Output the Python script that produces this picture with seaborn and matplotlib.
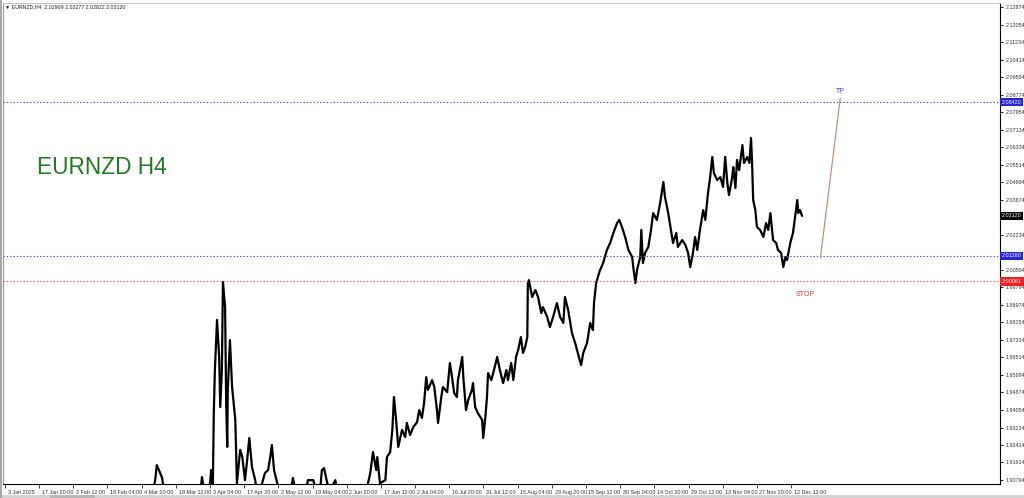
import numpy as np
import pandas as pd
import matplotlib
matplotlib.use("Agg")
import matplotlib.pyplot as plt
import matplotlib.transforms as mtrans
from matplotlib.patches import Rectangle
import seaborn as sns

# ---------------- data ----------------
bars = [0, 260, 270, 273, 277, 283, 288, 353, 357, 363, 370, 374, 377,
        379, 381, 385, 389, 391, 394, 396, 400, 402, 404, 405, 409, 413, 419, 422,
        428, 432, 437, 441, 445, 450, 456, 461, 474, 480, 484, 487, 491, 497, 502,
        521, 526, 532, 549, 554, 564, 569, 577, 580, 584, 590, 595, 605, 610, 660,
        670, 675, 681, 683, 688, 698, 701, 707, 711, 714, 718, 722, 729, 735, 738,
        744, 750, 757, 761, 766, 770, 774, 777, 785, 789, 794, 796, 802, 805, 813,
        818, 822, 826, 831, 833, 841, 843, 848, 852, 859, 861, 865, 870, 878, 880,
        884, 887, 889, 895, 900, 906, 911, 917, 923, 926, 932, 936, 941, 945, 950,
        954, 958, 962, 963, 965, 971, 977, 982, 988, 991, 999, 1004, 1010, 1017,
        1023, 1029, 1032, 1038, 1045, 1051, 1056, 1062, 1066, 1073, 1079, 1084,
        1086, 1090, 1096, 1103, 1110, 1116, 1122, 1129, 1133, 1138, 1144, 1150,
        1157, 1159, 1163, 1166, 1172, 1174, 1177, 1181, 1187, 1192, 1196, 1203,
        1209, 1215, 1218, 1224, 1229, 1233, 1239, 1242, 1250, 1256, 1261, 1265,
        1270, 1274, 1278, 1283, 1289, 1293, 1298, 1302, 1306, 1309, 1315, 1321,
        1326, 1330, 1334, 1337, 1343, 1345, 1349, 1352, 1356, 1362, 1365, 1371,
        1375, 1378, 1380, 1382, 1386, 1389, 1395, 1401, 1406, 1410, 1414, 1419,
        1425, 1428, 1434, 1438, 1442, 1445, 1451, 1456, 1460, 1464, 1466, 1469, 1473]

prices = [1.8950, 1.8960, 1.9078, 1.9148, 1.9125, 1.9088, 1.8990, 1.8990, 1.9092, 1.8995, 1.9000, 1.9125, 1.9010,
          1.9391, 1.9592, 1.9826, 1.9653, 1.9419, 1.9592, 2.0004, 1.9886, 1.9438, 1.9233, 1.9499, 1.9732, 1.9513, 1.9359, 1.9064,
          1.9219, 1.9186, 1.9078, 1.9172, 1.9275, 1.9139, 1.9078, 1.8990, 1.9111, 1.9125, 1.9186, 1.9242, 1.9125, 1.9064, 1.8980,
          1.9000, 1.9088, 1.9020, 1.9010, 1.9078, 1.9078, 1.9030, 1.9040, 1.9125, 1.9134, 1.9064, 1.9030, 1.9078, 1.8990, 1.9000,
          1.9111, 1.9209, 1.9125, 1.9186, 1.9064, 1.9078, 1.9186, 1.9209, 1.9312, 1.9466, 1.9359, 1.9233, 1.9312, 1.9279, 1.9345,
          1.9289, 1.9326, 1.9349, 1.9405, 1.9368, 1.9438, 1.9559, 1.9499, 1.9545, 1.9513, 1.9405, 1.9345, 1.9466, 1.9513, 1.9489,
          1.9625, 1.9559, 1.9485, 1.9466, 1.9545, 1.9653, 1.9559, 1.9405, 1.9452, 1.9499, 1.9531, 1.9419, 1.9391, 1.9359, 1.9275,
          1.9373, 1.9466, 1.9578, 1.9545, 1.9592, 1.9653, 1.9592, 1.9531, 1.9592, 1.9545, 1.9625, 1.9545, 1.9653, 1.9686, 1.9746,
          1.9672, 1.9700, 1.9746, 1.9998, 2.0012, 1.9933, 1.9966, 1.9933, 1.9858, 1.9886, 1.9840, 1.9793, 1.9840, 1.9905,
          1.9840, 1.9812, 1.9933, 1.9872, 1.9765, 1.9718, 1.9672, 1.9615, 1.9672, 1.9718, 1.9812, 1.9779,
          1.9905, 1.9998, 2.0050, 2.0092, 2.0153, 2.0185, 2.0232, 2.0279, 2.0293, 2.0260, 2.0213, 2.0153,
          2.0120, 2.0073, 1.9998, 2.0059, 2.0120, 2.0246, 2.0092, 2.0139, 2.0167, 2.0246, 2.0325, 2.0293,
          2.0372, 2.0470, 2.0400, 2.0325, 2.0246, 2.0185, 2.0232, 2.0167, 2.0199, 2.0176, 2.0139, 2.0073,
          2.0139, 2.0213, 2.0153, 2.0246, 2.0339, 2.0293, 2.0419, 2.0493, 2.0587, 2.0512, 2.0479, 2.0493,
          2.0447, 2.0587, 2.0465, 2.0409, 2.0493, 2.0540, 2.0442, 2.0573, 2.0526, 2.0643, 2.0559, 2.0587,
          2.0559, 2.0676, 2.0559, 2.0386, 2.0339, 2.0260, 2.0246, 2.0213, 2.0279, 2.0246, 2.0325, 2.0199,
          2.0185, 2.0153, 2.0139, 2.0073, 2.0120, 2.0106, 2.0185, 2.0232, 2.0307, 2.0386, 2.0325, 2.0339, 2.0312]

x_labels = ["3 Jan 2025", "17 Jan 20:00", "3 Feb 12:00", "18 Feb 04:00", "4 Mar 20:00",
            "19 Mar 12:00", "3 Apr 04:00", "17 Apr 20:00", "2 May 12:00", "19 May 04:00",
            "2 Jun 20:00", "17 Jun 12:00", "2 Jul 04:00", "16 Jul 20:00", "31 Jul 12:00",
            "15 Aug 04:00", "29 Aug 20:00", "15 Sep 12:00", "30 Sep 04:00", "14 Oct 20:00",
            "29 Oct 12:00", "13 Nov 04:00", "27 Nov 20:00", "12 Dec 12:00"]
x_tick_bars = [-9, 54, 118, 181, 245, 309, 372, 436, 499, 563, 626, 690, 753, 817,
               880, 944, 1008, 1071, 1135, 1198, 1262, 1325, 1389, 1453]

# visible right-axis labels (those hidden under price boxes are omitted)
y_labels = ["2.12874", "2.12054", "2.11234", "2.10414", "2.09594", "2.08774", "2.07954",
            "2.07134", "2.06334", "2.05514", "2.04694", "2.03874", "2.02234",
            "2.00594", "1.99794", "1.98974", "1.98154", "1.97334", "1.96514",
            "1.95694", "1.94874", "1.94054", "1.93234", "1.92414", "1.91614", "1.90794"]

tp_level = 2.0842
entry_level = 2.0126
stop_level = 2.0006
last_close = 2.0312
trend_bars = [1507, 1544]
trend_prices = [2.0115, 2.0862]
stop_text_bar = 1479
header = "\u25bc EURNZD,H4  2.02909 2.03277 2.02822 2.03120"

# ---------------- plot ----------------
sns.set_theme(style="white")
plt.rcParams["font.family"] = ["Liberation Sans", "DejaVu Sans"]

W, H = 1024, 498
fig = plt.figure(figsize=(W / 100, H / 100), dpi=100)
ax = fig.add_axes([3 / W, 14 / H, 997 / W, 481 / H])

df = pd.DataFrame({"bar": bars, "price": prices})
sns.lineplot(data=df, x="bar", y="price", ax=ax, color="black", lw=1.6,
             estimator=None, sort=False)

ax.set_xlim(-13, 1841)
ax.set_ylim(1.9060, 2.1306)

# horizontal levels
ax.axhline(tp_level, color="#4a4ac8", lw=0.8, ls=(0, (1.2, 1.8)))
ax.axhline(entry_level, color="#4a4ac8", lw=0.8, ls=(0, (1.2, 1.8)))
ax.axhline(stop_level, color="#f04848", lw=0.8, ls=(0, (1.2, 1.8)))

# trend line to TP
ax.plot(trend_bars, trend_prices, color="#c8906a", lw=0.9)
ax.text(trend_bars[1], tp_level + 0.0035, "TP", color="#3b3bd0", fontsize=5, ha="center", va="bottom")
ax.text(stop_text_bar, stop_level - 0.0045, "STOP", color="#e03a3a", fontsize=5, ha="center", va="top")

# title text
ax.text(0.034, 0.659, "EURNZD H4", transform=ax.transAxes, color="#1f7a1f",
        fontsize=16.3, ha="left", va="center")
fig.text(5 / W, 1 - 7 / H, header, fontsize=3.8, ha="left", va="center", color="#222222")

# axes / ticks
ax.yaxis.tick_right()
ax.set_yticks([float(v) for v in y_labels])
ax.set_yticklabels(y_labels)
ax.set_xticks(x_tick_bars)
ax.set_xticklabels(x_labels)
ax.tick_params(axis="y", which="both", direction="out", length=2.5, width=0.6, pad=1.5,
               labelsize=3.9, colors="black", right=True, left=False, labelcolor="#333333")
ax.tick_params(axis="x", which="both", direction="out", length=3, width=0.6, pad=1.5,
               labelsize=3.9, bottom=True, labelcolor="#333333")
offset = mtrans.ScaledTranslation(2.5 / 100, 0, fig.dpi_scale_trans)
for lab in ax.get_xticklabels():
    lab.set_horizontalalignment("left")
    lab.set_transform(lab.get_transform() + offset)
ax.set_xlabel("")
ax.set_ylabel("")

for side in ["bottom", "right"]:
    ax.spines[side].set_color("black")
    ax.spines[side].set_linewidth(0.8)
ax.spines["top"].set_color("#bbbbbb")
ax.spines["top"].set_linewidth(0.6)
ax.spines["left"].set_color("#9a9a9a")
ax.spines["left"].set_linewidth(0.8)

# price boxes on the right axis
def price_box(val, text, bg):
    ax.annotate(text, xy=(1.0, val), xycoords=("axes fraction", "data"),
                xytext=(1.5, 0), textcoords="offset points", ha="left", va="center",
                fontsize=3.9, color="white", annotation_clip=False, zorder=10,
                bbox=dict(boxstyle="square,pad=0.3", fc=bg, ec=bg, lw=0))

price_box(tp_level, "2.08420", "#2626d8")
price_box(last_close, "2.03120", "#000000")
price_box(entry_level, "2.01260", "#2626d8")
price_box(stop_level, "2.00061", "#ee2020")

# window frame decorations
fig.patches.append(Rectangle((0, 0), 1, 3 / H, transform=fig.transFigure,
                             fc="#d4d4d4", ec="none"))
fig.patches.append(Rectangle((50 / W, 0), 45 / W, 3 / H, transform=fig.transFigure,
                             fc="#b8b8b8", ec="none"))
fig.patches.append(Rectangle((0, 0), 1.5 / W, 1, transform=fig.transFigure,
                             fc="#a8a8a8", ec="none"))

fig.savefig("out.png", dpi=100, facecolor="white")
